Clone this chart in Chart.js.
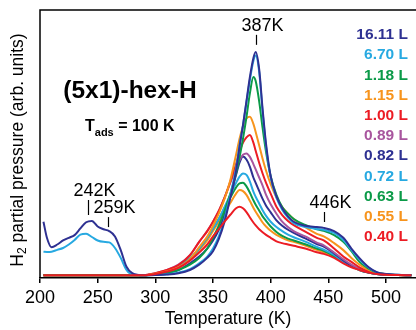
<!DOCTYPE html>
<html><head><meta charset="utf-8">
<script src="https://cdn.jsdelivr.net/npm/chart.js@4/dist/chart.umd.min.js"></script>
<style>html,body{margin:0;padding:0;background:#fff}#wrap{width:416px;height:330px}</style>
</head><body><div id="wrap"><canvas id="c" width="416" height="330"></canvas></div>
<script>
// ---- data ----
const temps = [203,206,210,215,220,225,230,235,240,245,250,255,260,265,270,275,280,290,
  300,310,320,330,338,345,350,355,360,365,370,373,376,379,382,385,387,390,393,396,400,405,410,415,420,430,440,446,455,463,470,477,485,492,500,510,522];
const doseLabels = ['16.11 L','6.70 L','1.18 L','1.15 L','1.00 L','0.89 L','0.82 L','0.72 L','0.63 L','0.55 L','0.40 L'];
const flatLow = [1,1,1,1,1,1,1,1,1,1,1,1,1,1,1,1,1,1];
const s1611 = [21,15,11.5,12.5,14,15,16,18.5,20.8,21.3,19.2,18.2,17.5,15.5,10.4,4.2,1.8,1.0,
  1.1,1.3,1.8,3,5,7.5,10,14.5,21,30,40,49,57,66,75,82,84.3,78,63,50,38,30.5,26,23,21,19.5,19,18.7,17.5,15,11,7.4,4,2.2,1.5,1.2,1.0];
const s670 = [9.8,9.7,9.8,10.5,11.2,12.5,14.2,16.2,16.5,15.3,14,13.5,13.3,11.2,7.5,3,1.3,1.0,
  1.1,1.4,2,3.3,5.5,8,11,15.5,22,31,41,49.5,57,65.5,74,81,83,77,62,49,37.5,30,25.5,22.5,20.5,19,18.3,18,16.8,14.2,10.5,7,3.8,2.1,1.4,1.2,1.0];
const s118 = flatLow.concat([1.3,1.8,3,5,7.5,11,15,19.5,25,31.5,39,45,52,60,69,75,73.5,66,56,47,38,31,26.5,24,22,19.8,18.2,17.6,16,13.5,10,6,3.5,2,1.4,1.1,1.0]);
const s115 = flatLow.concat([1.6,2.5,4,7,11.5,15.5,19.5,24,29.5,36.5,46,52,56.5,59.5,60.2,57.5,54.5,49.5,44.5,40,35,30,26.5,24,22,19,16.5,15.5,13,10.4,7.5,5,3,2,1.4,1.1,1.0]);
const s100 = flatLow.concat([1.8,3,4.8,8.5,13.5,17.5,21,25,30,36,42.5,47,50.5,52.5,53.4,50.5,47.5,43,39,35.5,31.5,26.6,23.5,21.3,19.7,17.3,15,14,11,8,6,4,2.5,1.8,1.3,1.1,1.0]);
const s089 = flatLow.concat([1.8,3,5,8.5,13.5,17.5,21,25,30,35.5,41,44,46,46.5,45.2,42.5,40.5,37.5,34.5,31,27.5,24,21,19,17.5,15.5,13.2,12.2,9.5,7,5,3.5,2.2,1.6,1.3,1.1,1.0]);
const s082 = flatLow.concat([1.3,2,3,5.5,8,11,14,18,23.5,30.5,38.5,43,45.3,44.2,41.5,37.5,35.5,32.5,29.5,27,24.5,21.5,19.5,18,16.8,14.8,12.7,11.7,9.2,6.6,4.6,3.1,2,1.5,1.2,1.1,1.0]);
const s072 = flatLow.concat([1.6,2.6,4.2,7.3,11,15,18.5,22,26.5,31,35.5,37.8,39,38.5,36,32.2,30.3,27.8,25.3,23.2,21,19,17.5,16.2,15.2,13.6,11.6,10.6,8.6,6.1,4.5,3,2,1.5,1.2,1.1,1.0]);
const s063 = flatLow.concat([1.6,2.6,4.2,7.3,11,15,18.5,22,26,30,33.8,35.3,35.5,34.2,31.8,29,27.3,25.2,23,21.3,19.2,17.2,15.7,14.7,14,12.6,11,10.1,8.1,6,4.5,3,2,1.5,1.2,1.1,1.0]);
const s055 = flatLow.concat([1.5,2.5,4,7,10.5,14,17.5,21,24.5,28,31.5,32.8,32.4,31,28.7,26.2,24.7,22.7,20.7,19.2,17.6,16.1,15,14.1,13.5,12.1,10.5,9.6,8,6,4.5,3,2,1.5,1.2,1.1,1.0]);
const s040 = flatLow.concat([1.5,2.4,3.8,6.5,9.5,12.5,15.5,18.2,21,23.6,26,26.6,26,24.6,22.6,20.7,19.6,18.2,17.1,16.1,15,13.7,13,12.5,12,11,9.6,9,7.5,5.5,4,3,2,1.5,1.2,1.1,1.0]);
const seriesValues = [s1611,s670,s118,s115,s100,s089,s082,s072,s063,s055,s040];
const xTicks = [200,250,300,350,400,450,500];
const annoText = ['387K','242K','259K','446K'];
const annoT = [387,242,259,446];
const annoV = [87,23.5,19,20.9];

// ---- styles ----
const NAVY='#2E3192', LBLUE='#27A9E1', GREEN='#0B9A48', ORANGE='#F7941D', RED='#EC1C24', PURPLE='#A8559E';
const colors = [NAVY,LBLUE,GREEN,ORANGE,RED,PURPLE,NAVY,LBLUE,GREEN,ORANGE,RED];
const drawOrder = [0,1,2,3,4,5,6,7,8,9,-1];
const FONT = '"Liberation Sans", Arial, sans-serif';

const datasets = seriesValues.map((vals,i)=>({
  label: doseLabels[i],
  data: temps.map((t,j)=>({x:t,y:vals[j]})),
  borderColor: colors[i],
  backgroundColor: colors[i],
  borderWidth: 2,
  pointRadius: 0,
  order: drawOrder[i],
  cubicInterpolationMode: 'monotone',
  fill: false
}));

const deco = {
  id:'deco',
  beforeDatasetsDraw(chart){
    const {ctx, chartArea:a} = chart;
    ctx.save();
    ctx.strokeStyle='#000'; ctx.lineWidth=1.5;
    ctx.beginPath(); ctx.moveTo(a.left, a.bottom); ctx.lineTo(a.left, a.top); ctx.lineTo(a.right, a.top); ctx.stroke();
    ctx.restore();
  },
  afterDraw(chart){
    const {ctx} = chart;
    const xs = chart.scales.x, ys = chart.scales.y;
    ctx.save();
    // y-axis title with subscript
    ctx.translate(18, 150); ctx.rotate(-Math.PI/2);
    ctx.fillStyle='#000'; ctx.textBaseline='middle'; ctx.textAlign='left';
    const big = '17.5px '+FONT, small = '12px '+FONT;
    ctx.font=big; const wH = ctx.measureText('H').width;
    const rest = ' partial pressure (arb. units)'; const wR = ctx.measureText(rest).width;
    ctx.font=small; const w2 = ctx.measureText('2').width;
    let x0 = -(wH+w2+wR)/2;
    ctx.font=big; ctx.fillText('H', x0, 0);
    ctx.font=small; ctx.fillText('2', x0+wH, 5);
    ctx.font=big; ctx.fillText(rest, x0+wH+w2, 0);
    ctx.restore();

    // legend
    ctx.save();
    ctx.font='bold 15.5px '+FONT; ctx.textAlign='right'; ctx.textBaseline='middle';
    chart.data.datasets.forEach((d,i)=>{ ctx.fillStyle=d.borderColor; ctx.fillText(d.label, 408, 35+i*20.2); });
    ctx.restore();

    // panel title
    ctx.save();
    ctx.fillStyle='#000'; ctx.textBaseline='middle';
    ctx.font='bold 24.5px '+FONT; ctx.textAlign='center';
    ctx.fillText('(5x1)-hex-H', 130, 91);
    ctx.textAlign='left';
    ctx.font='bold 16px '+FONT; ctx.fillText('T', 85, 127);
    const wT = ctx.measureText('T').width;
    ctx.font='bold 11px '+FONT; ctx.fillText('ads', 85+wT, 133);
    const wa = ctx.measureText('ads').width;
    ctx.font='bold 16px '+FONT; ctx.fillText(' = 100 K', 85+wT+wa, 127);
    ctx.restore();

    // peak annotations
    ctx.save();
    ctx.fillStyle='#000'; ctx.strokeStyle='#000'; ctx.lineWidth=1.2;
    ctx.font='18px '+FONT; ctx.textBaseline='middle'; ctx.textAlign='left';
    const lens = [10,15,10,10];
    annoText.forEach((t,i)=>{
      const px = Math.round(xs.getPixelForValue(annoT[i]))+0.5;
      const pb = ys.getPixelForValue(annoV[i]);
      const pt = pb - lens[i];
      ctx.beginPath(); ctx.moveTo(px, pb); ctx.lineTo(px, pt); ctx.stroke();
      const wn = ctx.measureText(t.replace('K','')).width;
      ctx.fillText(t, px - wn/2, pt - 9);
    });
    ctx.restore();
  }
};

new Chart(document.getElementById('c'), {
  type:'line',
  data:{datasets},
  options:{
    responsive:false, animation:false, devicePixelRatio:1,
    layout:{padding:{left:40, top:10, right:0, bottom:0}},
    plugins:{legend:{display:false}, tooltip:{enabled:false}},
    scales:{
      x:{type:'linear', min:200, max:526,
        afterBuildTicks:s=>{ s.ticks = xTicks.map(v=>({value:v})); },
        afterFit:s=>{ s.height = 52; },
        grid:{drawOnChartArea:false, drawTicks:true, tickLength:5, color:'#000', lineWidth:1.5},
        border:{color:'#000', width:1.5},
        ticks:{color:'#000', font:{family:FONT, size:18}, padding:4, maxRotation:0, autoSkip:false},
        title:{display:true, text:'Temperature (K)', color:'#000', font:{family:FONT, size:17.5}, padding:{top:0,bottom:0}}
      },
      y:{display:false, min:0, max:100}
    }
  },
  plugins:[deco]
});
</script></body></html>
